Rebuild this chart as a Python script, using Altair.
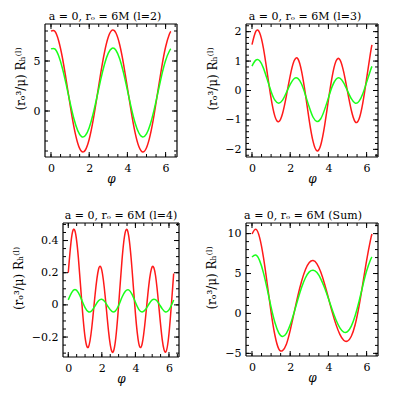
import altair as alt
import pandas as pd

FONT = "DejaVu Serif"
RED = "#ff1a1a"
GREEN = "#1aff1a"

phi = [0.0, 0.2, 0.4, 0.6, 0.8, 1.0, 1.2, 1.4, 1.6, 1.8, 2.0, 2.2, 2.4, 2.6, 2.8, 3.0,
       3.2, 3.4, 3.6, 3.8, 4.0, 4.2, 4.4, 4.6, 4.8, 5.0, 5.2, 5.4, 5.6, 5.8, 6.0, 6.2, 6.28]

l2_red = [7.98, 7.98, 7.03, 5.30, 3.04, 0.61, -1.59, -3.23, -4.04, -3.90, -2.83, -0.99, 1.32, 3.73, 5.87, 7.40,
          8.08, 7.80, 6.60, 4.67, 2.33, -0.07, -2.14, -3.56, -4.10, -3.67, -2.36, -0.36, 2.03, 4.41, 6.40, 7.69, 7.97]
l2_green = [6.21, 6.21, 5.52, 4.25, 2.61, 0.84, -0.77, -1.96, -2.56, -2.45, -1.67, -0.33, 1.35, 3.11, 4.67, 5.79,
            6.28, 6.08, 5.20, 3.80, 2.09, 0.34, -1.17, -2.20, -2.60, -2.29, -1.33, 0.13, 1.87, 3.61, 5.06, 6.00, 6.21]

l3_red = [1.56, 2.01, 1.96, 1.43, 0.59, -0.27, -0.88, -1.06, -0.78, -0.18, 0.50, 1.00, 1.08, 0.64, -0.14, -1.03,
          -1.74, -2.05, -1.85, -1.20, -0.33, 0.48, 1.00, 1.05, 0.63, -0.03, -0.67, -1.06, -0.98, -0.43, 0.40, 1.26, 1.55]
l3_green = [0.83, 1.03, 1.01, 0.76, 0.37, -0.03, -0.33, -0.43, -0.33, -0.07, 0.21, 0.40, 0.41, 0.21, -0.16, -0.57,
            -0.91, -1.05, -0.96, -0.65, -0.25, 0.14, 0.38, 0.42, 0.26, -0.01, -0.28, -0.43, -0.37, -0.11, 0.28, 0.68, 0.82]

l4_red = [0.200, 0.421, 0.459, 0.295, 0.024, -0.201, -0.262, -0.142, 0.066, 0.220, 0.215, 0.052, -0.165, -0.291,
          -0.232, -0.002, 0.277, 0.454, 0.429, 0.220, -0.053, -0.239, -0.243, -0.083, 0.123, 0.237, 0.181, -0.013,
          -0.217, -0.294, -0.179, 0.081, 0.195]
l4_green = [0.031, 0.076, 0.095, 0.076, 0.031, -0.017, -0.043, -0.036, -0.006, 0.025, 0.035, 0.017, -0.016, -0.041,
            -0.039, -0.004, 0.047, 0.085, 0.093, 0.065, 0.016, -0.028, -0.044, -0.029, 0.004, 0.031, 0.032, 0.008,
            -0.025, -0.044, -0.031, 0.010, 0.030]

sum_red = [9.95, 10.55, 9.50, 7.02, 3.66, 0.14, -2.73, -4.43, -4.65, -3.86, -2.12, 0.03, 2.19, 4.06, 5.50, 6.37,
           6.62, 6.21, 5.18, 3.69, 1.95, 0.17, -1.40, -2.62, -3.35, -3.46, -2.85, -1.41, 0.85, 3.69, 6.62, 9.15, 9.95]
sum_green = [7.07, 7.32, 6.62, 5.09, 3.01, 0.79, -1.14, -2.43, -2.89, -2.50, -1.43, 0.09, 1.74, 3.27, 4.47, 5.21,
             5.42, 5.12, 4.34, 3.21, 1.86, 0.45, -0.83, -1.81, -2.33, -2.27, -1.58, -0.29, 1.47, 3.46, 5.31, 6.69, 7.06]

titles = ["a = 0, rₒ = 6M (l=2)", "a = 0, rₒ = 6M (l=3)", "a = 0, rₒ = 6M (l=4)", "a = 0, rₒ = 6M (Sum)"]
y_title = "(rₒ³/μ) Rₕ⁽ˡ⁾"
x_title = "φ"

x_domain = [-0.314, 6.597]
x_major = [0, 2, 4, 6]
x_minor = [0, 0.5, 1, 1.5, 2, 2.5, 3, 3.5, 4, 4.5, 5, 5.5, 6, 6.5]

yA_domain = [-4.6, 8.7]
yA_major = [0, 5]
yA_minor = [-4, -3, -2, -1, 0, 1, 2, 3, 4, 5, 6, 7, 8]

yB_domain = [-2.26, 2.26]
yB_major = [-2, -1, 0, 1, 2]
yB_minor = [-2.2, -2.0, -1.8, -1.6, -1.4, -1.2, -1.0, -0.8, -0.6, -0.4, -0.2, 0, 0.2, 0.4, 0.6, 0.8, 1.0,
            1.2, 1.4, 1.6, 1.8, 2.0, 2.2]

yC_domain = [-0.324, 0.509]
yC_major = [-0.2, 0, 0.2, 0.4]
yC_minor = [-0.3, -0.25, -0.2, -0.15, -0.1, -0.05, 0, 0.05, 0.1, 0.15, 0.2, 0.25, 0.3, 0.35, 0.4, 0.45, 0.5]

yD_domain = [-5.33, 11.33]
yD_major = [-5, 0, 5, 10]
yD_minor = [-5, -4, -3, -2, -1, 0, 1, 2, 3, 4, 5, 6, 7, 8, 9, 10, 11]

MAJ = 5
MIN = 3
ONE = pd.DataFrame({"k": [0]})


def panel(red, green, title, ydom, ymaj, ymin, W, H, dx, tx, x0=0):
    n = len(phi)
    df = pd.DataFrame({"phi": phi + phi, "val": red + green, "s": ["red"] * n + ["green"] * n})
    xs = alt.Scale(domain=x_domain, nice=False, zero=False, range=[x0, W])
    ys = alt.Scale(domain=ydom, nice=False, zero=False)
    xax = alt.Axis(values=x_major, ticks=False, domain=False, grid=False, format="~r",
                   labelPadding=5, labelFont=FONT, labelFontSize=11, labelColor="black",
                   title=x_title, titleFont=FONT, titleFontSize=12, titleFontStyle="italic",
                   titleFontWeight="normal", titleColor="black", titlePadding=0, titleX=x0 + (W - x0) / 2)
    yax = alt.Axis(values=ymaj, ticks=False, domain=False, grid=False, format="~r",
                   labelPadding=5, labelFont=FONT, labelFontSize=11, labelColor="black",
                   title=y_title, titleFont=FONT, titleFontSize=12, titleFontWeight="normal",
                   titleColor="black", titleX=tx, titleY=H / 2 - 12, titleBaseline="bottom",
                   titleAngle=270, titleAlign="center", offset=-x0)
    lines = alt.Chart(df).mark_line(strokeWidth=1.5, interpolate="natural").encode(
        x=alt.X("phi:Q", scale=xs, axis=xax),
        y=alt.Y("val:Q", scale=ys, axis=yax),
        color=alt.Color("s:N", scale=alt.Scale(domain=["red", "green"], range=[RED, GREEN]), legend=None),
    )
    layers = [lines]
    for vals, L in ((x_minor, MIN), (x_major, MAJ)):
        d = pd.DataFrame({"phi": vals})
        for y0, y1 in ((H, H - L), (0, L)):
            layers.append(alt.Chart(d).mark_rule(color="black", strokeWidth=1).encode(
                x=alt.X("phi:Q", scale=xs, axis=xax), y=alt.value(y0), y2=alt.value(y1)))
    for vals, L in ((ymin, MIN), (ymaj, MAJ)):
        d = pd.DataFrame({"val": vals})
        for xa, xb in ((x0, x0 + L), (W, W - L)):
            layers.append(alt.Chart(d).mark_rule(color="black", strokeWidth=1).encode(
                y=alt.Y("val:Q", scale=ys, axis=yax), x=alt.value(xa), x2=alt.value(xb)))
    # frame
    for enc in (dict(x=alt.value(x0), y=alt.value(0), y2=alt.value(H)),
                dict(x=alt.value(W), y=alt.value(0), y2=alt.value(H)),
                dict(y=alt.value(0), x=alt.value(x0), x2=alt.value(W)),
                dict(y=alt.value(H), x=alt.value(x0), x2=alt.value(W))):
        layers.append(alt.Chart(ONE).mark_rule(color="black", strokeWidth=1.2).encode(**enc))
    return alt.layer(*layers).properties(
        width=W, height=H,
        title=alt.TitleParams(title, font=FONT, fontSize=11, fontWeight="normal", color="black",
                              offset=1, dx=dx, anchor="middle"))


A = panel(l2_red, l2_green, titles[0], yA_domain, yA_major, yA_minor, 132, 133, -6, -18)
B = panel(l3_red, l3_green, titles[1], yB_domain, yB_major, yB_minor, 132, 133, -7, -27)
C = panel(l4_red, l4_green, titles[2], yC_domain, yC_major, yC_minor, 134, 134, 9, -38, x0=18)
D = panel(sum_red, sum_green, titles[3], yD_domain, yD_major, yD_minor, 132, 133, -9, -28)

chart = alt.concat(A, B, C, D, columns=2,
                   spacing={"row": 24, "column": 23}).configure_view(
    stroke="transparent"
).properties(
    padding={"left": 3, "top": 2, "right": 3, "bottom": 3}
)

chart.save("out.html", embed_options={"renderer": "svg", "actions": False})
